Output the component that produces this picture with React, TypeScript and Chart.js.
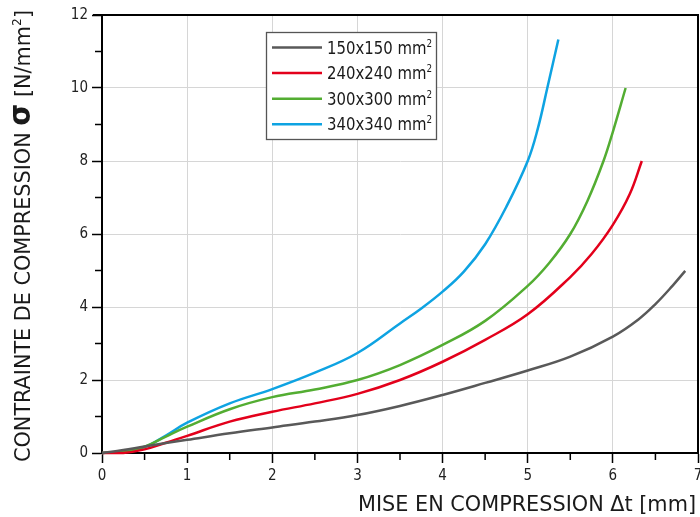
import React, { useEffect, useRef } from "react";
import { Chart, registerables } from "chart.js";

Chart.register(...registerables);

// ---- Data ----
const seriesLabels = ["150x150 mm²", "240x240 mm²", "300x300 mm²", "340x340 mm²"];
const seriesColors = ["#595959", "#e3001b", "#53ad32", "#0ea3e2"];

const grayX = [0, 0.25, 0.5, 1, 1.5, 2, 2.5, 3, 3.5, 4, 4.5, 5, 5.5, 6, 6.3, 6.5, 6.7, 6.85];
const grayY = [0, 0.08, 0.18, 0.36, 0.54, 0.7, 0.86, 1.04, 1.29, 1.59, 1.92, 2.26, 2.64, 3.19, 3.66, 4.08, 4.58, 4.99];

const redX = [0, 0.25, 0.5, 0.75, 1, 1.5, 2, 2.5, 3, 3.5, 4, 4.5, 5, 5.5, 5.75, 6, 6.2, 6.34];
const redY = [0, 0.0, 0.1, 0.28, 0.47, 0.86, 1.13, 1.36, 1.62, 2.0, 2.5, 3.1, 3.8, 4.82, 5.45, 6.25, 7.1, 8.0];

const greenX = [0, 0.25, 0.5, 0.75, 1, 1.5, 2, 2.5, 3, 3.5, 4, 4.5, 5, 5.25, 5.5, 5.7, 5.89, 6, 6.15];
const greenY = [0, 0.04, 0.17, 0.45, 0.72, 1.2, 1.53, 1.74, 2.0, 2.41, 2.96, 3.62, 4.58, 5.2, 6.0, 6.9, 8.0, 8.8, 10.0];

const blueX = [0, 0.25, 0.5, 0.75, 1, 1.5, 2, 2.5, 3, 3.5, 3.75, 4, 4.25, 4.5, 4.75, 5, 5.12, 5.23, 5.36];
const blueY = [0, 0.04, 0.16, 0.48, 0.83, 1.36, 1.75, 2.2, 2.74, 3.55, 3.96, 4.42, 4.97, 5.72, 6.75, 8.0, 8.9, 10.0, 11.33];

const xTitle = "MISE EN COMPRESSION Δt [mm]";
const yTitleParts = ["CONTRAINTE DE COMPRESSION ", "σ", " [N/mm", "2", "]"];

const FONT = "'Liberation Sans Narrow', 'DejaVu Sans Condensed', 'Roboto Condensed', 'Liberation Sans', sans-serif";

const toPoints = (xs: number[], ys: number[]) => xs.map((x, i) => ({ x, y: ys[i] }));

type Seg = { text: string; font: string; dy?: number };

function drawFitted(ctx: CanvasRenderingContext2D, segs: Seg[], x: number, y: number, width: number, rot: number) {
  ctx.save();
  let total = 0;
  const widths = segs.map((s) => {
    ctx.font = s.font;
    const w = ctx.measureText(s.text).width;
    total += w;
    return w;
  });
  ctx.translate(x, y);
  ctx.rotate(rot);
  ctx.scale(width / total, 1);
  ctx.fillStyle = "#1a1a1a";
  ctx.textBaseline = "alphabetic";
  ctx.textAlign = "left";
  let cx = 0;
  segs.forEach((s, i) => {
    ctx.font = s.font;
    ctx.fillText(s.text, cx, s.dy || 0);
    cx += widths[i];
  });
  ctx.restore();
}

const decorPlugin = {
  id: "decor",
  afterDraw(chart: any) {
    const ctx: CanvasRenderingContext2D = chart.ctx;
    const { left, right, top, bottom } = chart.chartArea;
    const xs = chart.scales.x;
    const ys = chart.scales.y;
    ctx.save();
    // top and right frame
    ctx.strokeStyle = "#000";
    ctx.lineWidth = 2;
    ctx.beginPath();
    ctx.moveTo(left - 9, top);
    ctx.lineTo(right, top);
    ctx.lineTo(right, bottom);
    ctx.stroke();
    // minor ticks
    ctx.lineWidth = 1.5;
    ctx.beginPath();
    for (let v = 0.5; v < 7; v += 1) {
      const px = xs.getPixelForValue(v);
      ctx.moveTo(px, bottom);
      ctx.lineTo(px, bottom + 7);
    }
    for (let v = 1; v < 12; v += 2) {
      const py = ys.getPixelForValue(v);
      ctx.moveTo(left, py);
      ctx.lineTo(left - 7, py);
    }
    ctx.stroke();

    // legend
    const bx = 266, by = 32, bw = 170, bh = 107;
    ctx.fillStyle = "#fff";
    ctx.fillRect(bx, by, bw, bh);
    ctx.strokeStyle = "#555";
    ctx.lineWidth = 1.3;
    ctx.strokeRect(bx + 0.5, by + 0.5, bw, bh);
    chart.data.datasets.forEach((ds: any, i: number) => {
      const ry = 47.5 + i * 25.6;
      ctx.strokeStyle = ds.borderColor;
      ctx.lineWidth = 2.5;
      ctx.beginPath();
      ctx.moveTo(272, ry);
      ctx.lineTo(322, ry);
      ctx.stroke();
      const label: string = ds.label;
      const main = label.endsWith("²") ? label.slice(0, -1) : label;
      drawFitted(
        ctx,
        [
          { text: main, font: `17px ${FONT}` },
          { text: "2", font: `10px ${FONT}`, dy: -7 },
        ],
        327,
        ry + 6,
        105,
        0
      );
    });

    // axis titles
    drawFitted(ctx, [{ text: xTitle, font: `22px ${FONT}` }], 358, 511, 338, 0);
    drawFitted(
      ctx,
      [
        { text: yTitleParts[0], font: `22px ${FONT}` },
        { text: yTitleParts[1], font: `bold 30px ${FONT}` },
        { text: yTitleParts[2], font: `22px ${FONT}` },
        { text: yTitleParts[3], font: `13px ${FONT}`, dy: -9 },
        { text: yTitleParts[4], font: `22px ${FONT}` },
      ],
      30,
      462,
      452,
      -Math.PI / 2
    );
    ctx.restore();
  },
};

export default function App() {
  const ref = useRef<HTMLCanvasElement | null>(null);
  useEffect(() => {
    document.body.style.margin = "0";
    if (!ref.current) return;
    const series = [
      toPoints(grayX, grayY),
      toPoints(redX, redY),
      toPoints(greenX, greenY),
      toPoints(blueX, blueY),
    ];
    const chart = new Chart(ref.current, {
      type: "scatter",
      data: {
        datasets: series.map((pts, i) => ({
          label: seriesLabels[i],
          data: pts,
          showLine: true,
          borderColor: seriesColors[i],
          backgroundColor: seriesColors[i],
          borderWidth: 2.5,
          pointRadius: 0,
          tension: 0.4,
          clip: false as any,
        })),
      },
      options: {
        responsive: false,
        animation: false,
        layout: { padding: { left: 62, right: 2, top: 15, bottom: 0 } },
        plugins: { legend: { display: false }, tooltip: { enabled: false } },
        scales: {
          x: {
            type: "linear",
            min: 0,
            max: 7,
            ticks: { stepSize: 1, padding: 4, color: "#222", font: { family: FONT, size: 15 } },
            grid: { color: "#d6d6d6", lineWidth: 1, tickColor: "#000", tickLength: 10, tickWidth: 1.5 },
            border: { color: "#000", width: 2 },
            afterFit: (s: any) => {
              s.height = 64;
              s.paddingRight = 0;
              s.paddingLeft = 0;
            },
          },
          y: {
            type: "linear",
            min: 0,
            max: 12,
            ticks: { stepSize: 2, padding: 4, color: "#222", font: { family: FONT, size: 15 } },
            grid: { color: "#d6d6d6", lineWidth: 1, tickColor: "#000", tickLength: 10, tickWidth: 1.5 },
            border: { color: "#000", width: 2 },
            afterFit: (s: any) => {
              s.width = 40;
            },
          },
        },
      },
      plugins: [decorPlugin],
    });
    return () => chart.destroy();
  }, []);
  return (
    <div style={{ width: 700, height: 517 }}>
      <canvas ref={ref} width={700} height={517} style={{ width: 700, height: 517, display: "block" }} />
    </div>
  );
}
